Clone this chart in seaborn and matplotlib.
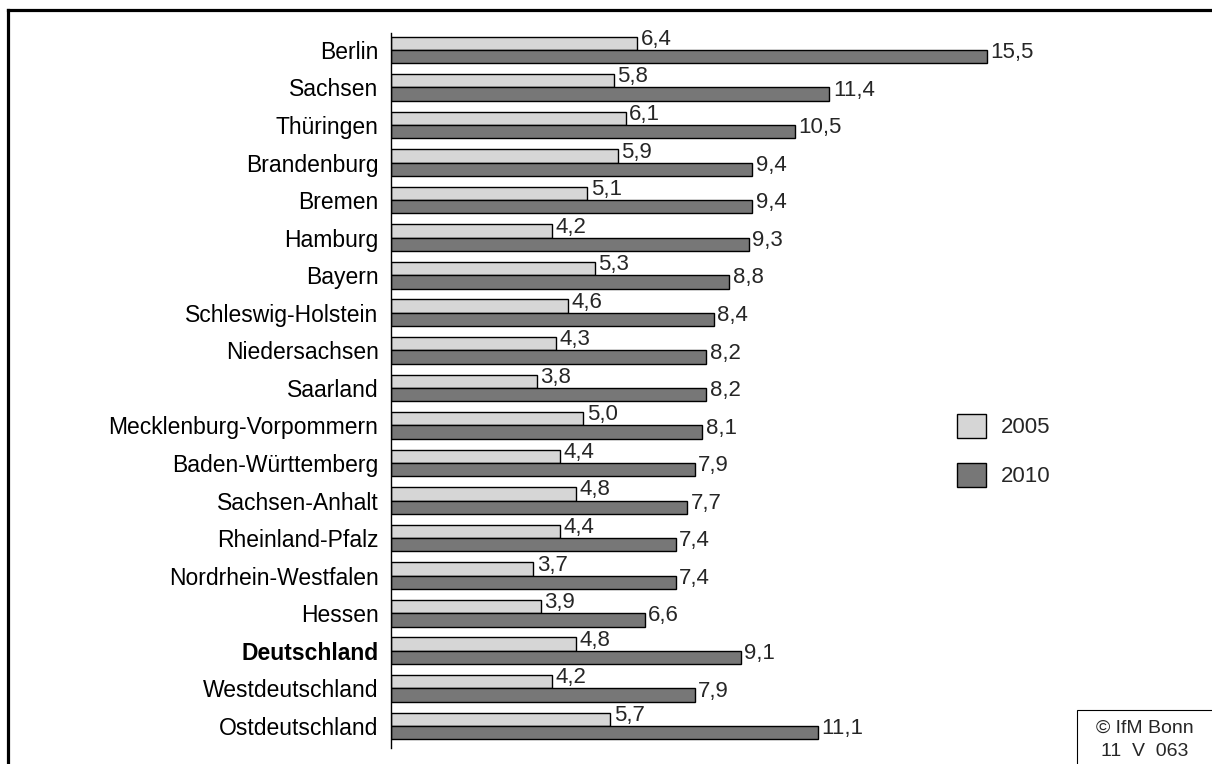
import matplotlib
matplotlib.use("Agg")
import matplotlib.pyplot as plt
from matplotlib.patches import Patch, Rectangle
from matplotlib.lines import Line2D
import pandas as pd
import seaborn as sns

regions = ['Berlin', 'Sachsen', 'Thüringen', 'Brandenburg', 'Bremen', 'Hamburg',
           'Bayern', 'Schleswig-Holstein', 'Niedersachsen', 'Saarland',
           'Mecklenburg-Vorpommern', 'Baden-Württemberg', 'Sachsen-Anhalt',
           'Rheinland-Pfalz', 'Nordrhein-Westfalen', 'Hessen', 'Deutschland',
           'Westdeutschland', 'Ostdeutschland']
vals_2005 = [6.4, 5.8, 6.1, 5.9, 5.1, 4.2, 5.3, 4.6, 4.3, 3.8, 5.0, 4.4, 4.8,
             4.4, 3.7, 3.9, 4.8, 4.2, 5.7]
vals_2010 = [15.5, 11.4, 10.5, 9.4, 9.4, 9.3, 8.8, 8.4, 8.2, 8.2, 8.1, 7.9, 7.7,
             7.4, 7.4, 6.6, 9.1, 7.9, 11.1]
years = ['2005', '2010']
colors = ['#d6d6d6', '#777777']

df = pd.DataFrame({
    'region': regions * 2,
    'year': ['2005'] * len(regions) + ['2010'] * len(regions),
    'value': vals_2005 + vals_2010,
})

sns.set_style('white')
plt.rcParams['font.family'] = ['Liberation Sans', 'DejaVu Sans']

W, H = 1212, 764
fig = plt.figure(figsize=(W / 100, H / 100), dpi=100)
ax = fig.add_axes([391 / W, 16 / H, 709 / W, 715 / H])

sns.barplot(data=df, y='region', x='value', hue='year', order=regions,
            hue_order=years, palette=colors, orient='h', width=0.71,
            edgecolor='black', linewidth=1.0, saturation=1, legend=False, ax=ax)

ax.set_xlim(0, 709 / 38.45)
ax.set_ylim(len(regions) - 1 + 0.59, -0.45)
ax.set_xlabel('')
ax.set_ylabel('')
ax.set_xticks([])
for s in ['top', 'right', 'bottom']:
    ax.spines[s].set_visible(False)
ax.spines['left'].set_color('black')
ax.spines['left'].set_linewidth(1.0)
ax.tick_params(axis='y', length=0, pad=9, labelsize=16.5, labelcolor='black')
for lbl in ax.get_yticklabels():
    if lbl.get_text() == 'Deutschland':
        lbl.set_fontweight('bold')

for cont in ax.containers:
    for bar in cont:
        v = bar.get_width()
        ax.annotate(f'{v:.1f}'.replace('.', ','),
                    (v, bar.get_y() + bar.get_height() / 2),
                    xytext=(2.5, 2.8), textcoords='offset points',
                    ha='left', va='center', fontsize=16)

handles = [Patch(facecolor=c, edgecolor='black', linewidth=1.0) for c in colors]
fig.legend(handles, years, loc='center left',
           bbox_to_anchor=(957 / W, 1 - 450.5 / H), frameon=False, fontsize=16,
           handlelength=1.32, handleheight=1.32, labelspacing=1.1,
           handletextpad=0.64, borderpad=0, borderaxespad=0)

# copyright box
fig.add_artist(Rectangle((1077 / W, -0.05), 0.2, (764 - 710) / H + 0.05,
                         transform=fig.transFigure, facecolor='white',
                         edgecolor='black', linewidth=0.8))
fig.text(1145 / W, 1 - 728 / H, '© IfM Bonn', ha='center', va='center', fontsize=14)
fig.text(1145 / W, 1 - 751 / H, '11  V  063', ha='center', va='center', fontsize=14)

# outer frame (left and top edges)
fig.add_artist(Line2D([7.5 / W, 7.5 / W], [0, 1 - 9.5 / H], transform=fig.transFigure,
                      color='black', linewidth=2.3, solid_capstyle='projecting'))
fig.add_artist(Line2D([7.5 / W, 1], [1 - 9.5 / H, 1 - 9.5 / H], transform=fig.transFigure,
                      color='black', linewidth=2.3, solid_capstyle='projecting'))

fig.savefig('out.png', dpi=100)
